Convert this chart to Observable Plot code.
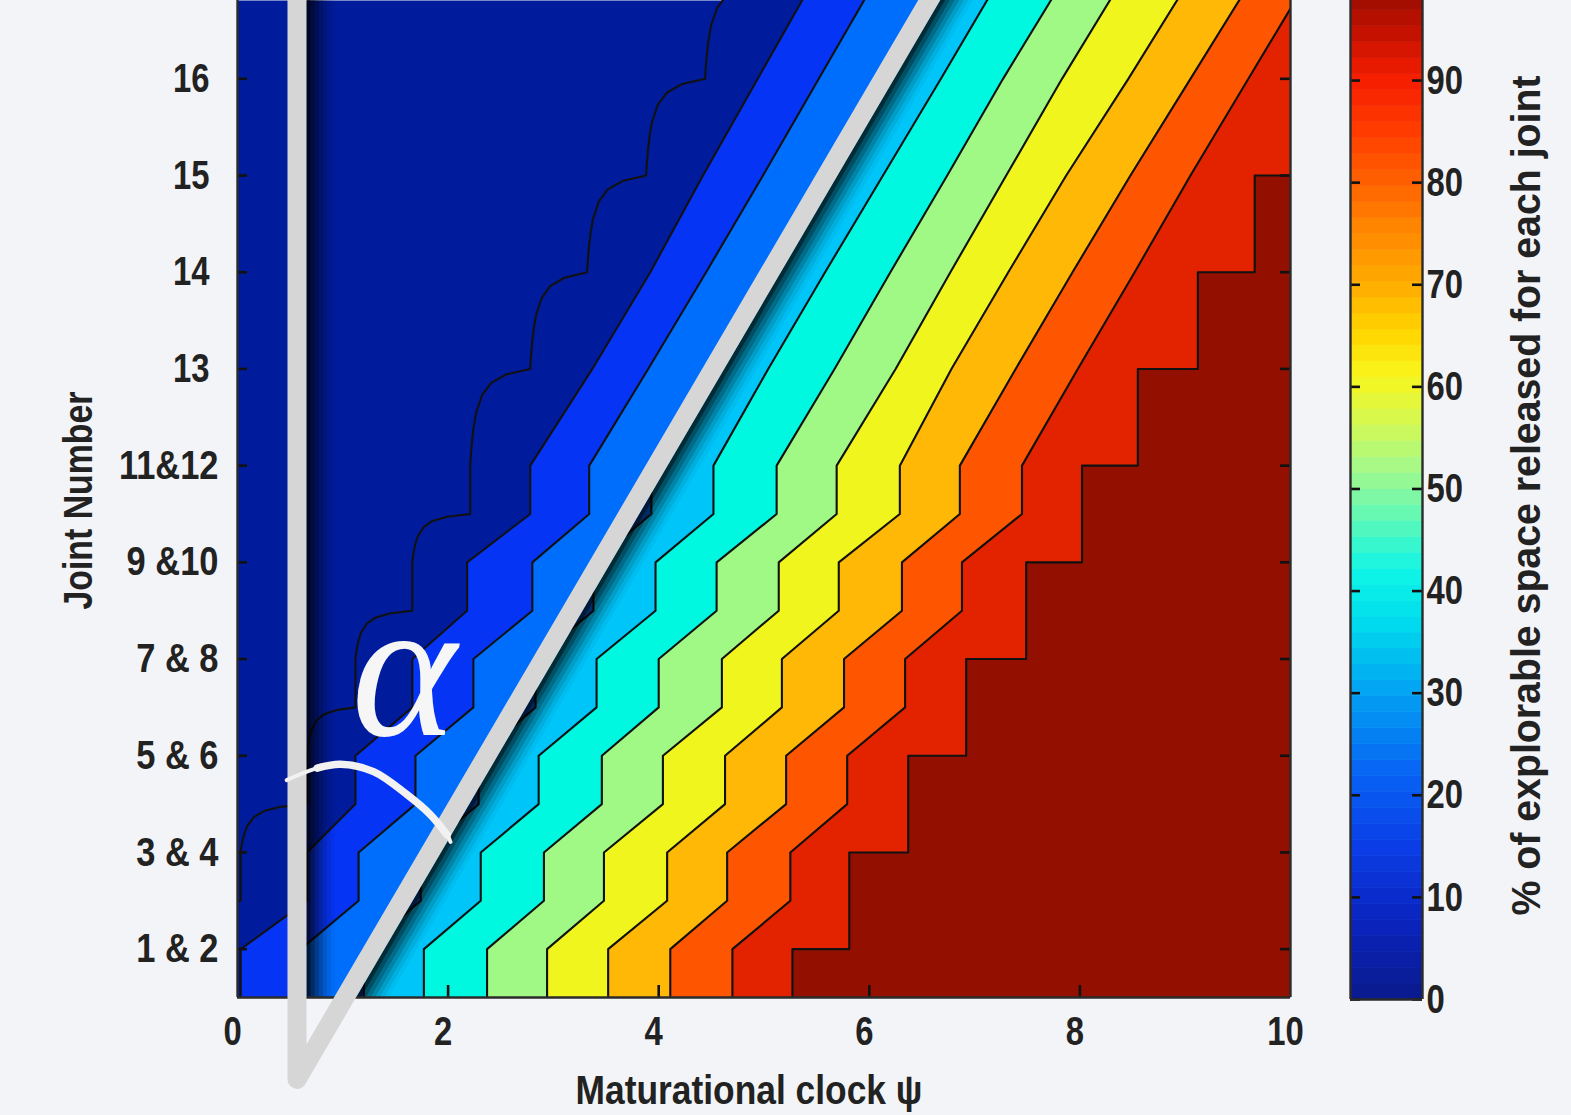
<!DOCTYPE html>
<html>
<head>
<meta charset="utf-8">
<script src="https://cdn.jsdelivr.net/npm/d3@7"></script>
<script src="https://cdn.jsdelivr.net/npm/@observablehq/plot@0.6"></script>
<style>
  html, body { margin: 0; padding: 0; background: #f3f4f7; overflow: hidden; }
  #chart { position: relative; width: 1571px; height: 1115px; }
  #chart > svg { position: absolute; top: 0; }
</style>
</head>
<body>
<div id="chart"></div>
<script>
// ---------------- data ----------------
const joints = [1, 2, 3, 4, 5, 6, 7, 8, 9, 10];
const jointLabels = ["1 & 2", "3 & 4", "5 & 6", "7 & 8", "9 &10", "11&12", "13 ", "14 ", "15 ", "16 "];
const clockTicks = [0, 2, 4, 6, 8, 10];
const percentTicks = [0, 10, 20, 30, 40, 50, 60, 70, 80, 90];

// maturational clock value at which each contour level is reached, one value per grid row
// (rows 1..10 = the joint labels, row 11 lies just above the top edge)
const release0   = [-0.52, 0.03, 0.66, 1.12, 1.66, 2.21, 2.78, 3.32, 3.88, 4.44, 5.01];
const release10  = [0.03, 0.66, 1.12, 1.66, 2.18, 2.78, 3.37, 3.92, 4.42, 4.94, 5.46];
const release20  = [0.60, 1.15, 1.69, 2.24, 2.80, 3.34, 3.90, 4.45, 4.99, 5.52, 6.05];
const release30  = [1.20, 1.74, 2.29, 2.83, 3.38, 3.93, 4.47, 5.01, 5.56, 6.11, 6.65];
const release40  = [1.77, 2.31, 2.86, 3.41, 3.97, 4.52, 5.04, 5.58, 6.13, 6.68, 7.22];
const release50  = [2.37, 2.91, 3.46, 4.00, 4.55, 5.12, 5.67, 6.20, 6.74, 7.27, 7.83];
const release60  = [2.94, 3.48, 4.04, 4.60, 5.14, 5.69, 6.25, 6.77, 7.30, 7.83, 8.39];
const release70  = [3.52, 4.08, 4.63, 5.17, 5.71, 6.29, 6.78, 7.32, 7.87, 8.46, 9.03];
const release80  = [4.11, 4.65, 5.21, 5.76, 6.31, 6.86, 7.39, 7.93, 8.48, 9.05, 9.62];
const release90  = [4.70, 5.25, 5.79, 6.34, 6.88, 7.45, 7.98, 8.52, 9.05, 9.60, 10.15];
const release100 = [5.27, 5.81, 6.37, 6.92, 7.49, 8.02, 8.55, 9.12, 9.66, 10.21, 10.76];

// band colours (below first contour ... above last contour)
const bandColors = ["#001c9c", "#001c9c", "#0634f4", "#006efd", "#00c5f9", "#00f8e0",
                    "#a0f984", "#f1f51e", "#feb805", "#fe5600", "#e32300", "#931000"];
// colour bar (jet-like) stops
const barStops  = [0, 8, 15, 22, 30, 37, 42, 47, 52, 57, 61, 65, 70, 75, 80, 85, 90, 95, 100];
const barColors = ["#0a1a8c", "#0a24c0", "#0a3ee6", "#0862f4", "#02a2f2", "#00dcee", "#10f6e6",
                   "#5ef8b8", "#a6f98a", "#d8f84c", "#f8f61c", "#ffd800", "#ffac00", "#ff8a00",
                   "#ff6200", "#ff3c00", "#f61e00", "#c01000", "#8c0c00"];

// annotation overlay (in data coordinates)
const angleArms = [{x: 0.565, y: 11.5}, {x: 0.565, y: -0.347}, {x: 6.938, y: 11.5}];
const angleArc = [{x: 0.467, y: 2.748}, {x: 0.757, y: 2.872}, {x: 0.978, y: 2.912}, {x: 1.292, y: 2.836},
                  {x: 1.612, y: 2.596}, {x: 1.833, y: 2.389}, {x: 1.991, y: 2.181}, {x: 2.023, y: 2.109}];
const alphaAt = {x: 1.581, y: 3.881};

// ---------------- geometry of the contour boundaries ----------------
const pairedRows = 6;                     // joints 1..12 are plotted as pairs
const gridY = k => (k <= pairedRows ? [k - 0.5, k] : [k]);
const bendU = [0, 0.01, 0.03, 0.06, 0.1, 0.2, 0.35, 0.6, 1];
const bendV = [0, 0.1, 0.254, 0.41, 0.55, 0.733, 0.856, 0.943, 1];

function rampPath(xs) {
  const pts = [];
  xs.forEach((x, i) => { for (const y of gridY(i + 1)) pts.push({x, y}); });
  return pts;
}
function plateauPath(xs) {
  const pts = [];
  xs.forEach((x, i) => { const k = i + 1; pts.push({x, y: k === 1 ? 0.5 : k - 1}); pts.push({x, y: k}); });
  return pts;
}
function onsetPath(xs) {
  const pts = [];
  xs.forEach((x, i) => {
    const k = i + 1, ys = gridY(k);
    for (const y of ys) pts.push({x, y});
    if (i < xs.length - 1) {
      const y0 = ys[ys.length - 1], y1 = gridY(k + 1)[0], x1 = xs[i + 1];
      for (let j = 1; j < bendU.length - 1; j++) pts.push({x: x + bendU[j] * (x1 - x), y: y0 + bendV[j] * (y1 - y0)});
    }
  });
  return pts;
}

const boundaries = [
  onsetPath(release0), rampPath(release10), rampPath(release20), rampPath(release30),
  rampPath(release40), rampPath(release50), rampPath(release60), rampPath(release70),
  rampPath(release80), rampPath(release90), plateauPath(release100)
];

const fills = boundaries.map((pts, i) =>
  Plot.areaX(pts, {y: "y", x1: "x", x2: () => 11, fill: bandColors[i + 1], clip: true}));
const contourLines = boundaries.map(pts =>
  Plot.line(pts, {x: "x", y: "y", stroke: "#111", strokeWidth: 2.1, clip: true}));

// shadows of the overlay bars
const shadeOffsets = [2, 6, 10, 14, 18, 22, 26];
const shadeOpacity = [0.78, 0.6, 0.45, 0.32, 0.2, 0.11, 0.04];
const shadows = [];
shadeOffsets.forEach((d, i) => {
  shadows.push(Plot.line(angleArms.slice(0, 2), {x: "x", y: "y", stroke: "#000", strokeOpacity: shadeOpacity[i],
    strokeWidth: 4.3, dx: 9.5 + d, clip: true}));
  shadows.push(Plot.line(angleArms.slice(1), {x: "x", y: "y", stroke: "#000", strokeOpacity: shadeOpacity[i],
    strokeWidth: 4.3, dx: (9.5 + d) / 0.8625, clip: true}));
});

const txt = {fontFamily: "'Liberation Sans', Arial, sans-serif", fontWeight: "bold", fill: "#222"};

const main = Plot.plot({
  width: 1571, height: 1115,
  marginLeft: 237, marginRight: 281, marginTop: 0, marginBottom: 118,
  style: {background: "transparent", fontFamily: "'Liberation Sans', Arial, sans-serif"},
  x: {domain: [0, 10]},
  y: {domain: [0.5, 10.81]},
  marks: [
    Plot.frame({fill: bandColors[0], stroke: null}),
    ...fills,
    ...contourLines,
    ...shadows,
    Plot.ruleX(clockTicks.slice(1, -1), {x: d => d, insetTop: 985, stroke: "#111", strokeWidth: 2.6}),
    Plot.ruleY(joints, {y: d => d, insetRight: 1043, stroke: "#111", strokeWidth: 2.6}),
    Plot.ruleY(joints, {y: d => d, insetLeft: 1043, stroke: "#111", strokeWidth: 2.6}),
    Plot.ruleX([0, 10], {x: d => d, stroke: "#2b2b2b", strokeWidth: 2.4}),
    Plot.ruleY([0.5], {y: d => d, stroke: "#2b2b2b", strokeWidth: 2.4}),
    Plot.axisX(clockTicks, {anchor: "bottom", tickSize: 0, tickPadding: 18, label: null, fontSize: 41, dx: -5, ...txt}),
    Plot.axisY(joints, {anchor: "left", tickSize: 0, tickPadding: 19, label: null, fontSize: 41,
      tickFormat: d => jointLabels[d - 1], ...txt}),
    Plot.text(["Maturational clock ψ"], {frameAnchor: "bottom", dx: -15, dy: 93, fontSize: 41,
      textAnchor: "middle", lineAnchor: "middle", ...txt}),
    Plot.text(["Joint Number"], {frameAnchor: "left", rotate: -90, dx: -159, dy: 1.5, fontSize: 41,
      textAnchor: "middle", lineAnchor: "middle", ...txt}),
    Plot.line(angleArms, {x: "x", y: "y", stroke: "#d6d6d6", strokeWidth: 19, strokeLinejoin: "round"}),
    Plot.line(angleArc, {x: "x", y: "y", curve: "catmull-rom", stroke: "#f2f2f2", strokeWidth: 4, strokeLinecap: "round"}),
    Plot.line(angleArc.slice(1, 7), {x: "x", y: "y", curve: "catmull-rom", stroke: "#f2f2f2", strokeWidth: 7.5, strokeLinecap: "round"}),
    Plot.text(["α"], {x: () => alphaAt.x, y: () => alphaAt.y, fontSize: 200, fontFamily: "'Liberation Serif', 'DejaVu Serif', serif",
      fontStyle: "italic", fill: "#f6f6f6", lineAnchor: "middle"})
  ]
});

// colour bar
const barSteps = d3.range(64).map(i => ({lo: i * 100 / 64, hi: (i + 1) * 100 / 64}));
const bar = Plot.plot({
  width: 241, height: 1115,
  marginLeft: 20, marginRight: 149, marginTop: 0, marginBottom: 116,
  style: {background: "transparent", fontFamily: "'Liberation Sans', Arial, sans-serif"},
  x: {domain: [0, 1], axis: null},
  y: {domain: [0, 97.84]},
  color: {type: "linear", domain: barStops, range: barColors, interpolate: "rgb"},
  marks: [
    Plot.rect(barSteps, {x1: () => 0, x2: () => 1, y1: "lo", y2: "hi", fill: d => (d.lo + d.hi) / 2,
      stroke: d => (d.lo + d.hi) / 2, strokeWidth: 0.6, clip: true}),
    Plot.ruleY(percentTicks, {y: d => d, insetRight: 62, stroke: "#111", strokeWidth: 2.6}),
    Plot.ruleY(percentTicks, {y: d => d, insetLeft: 62, stroke: "#111", strokeWidth: 2.6}),
    Plot.ruleX([0, 1], {x: d => d, stroke: "#2b2b2b", strokeWidth: 2.4}),
    Plot.ruleY([0], {y: d => d, stroke: "#2b2b2b", strokeWidth: 2.4}),
    Plot.axisY(percentTicks, {anchor: "right", tickSize: 0, tickPadding: 4, label: null, fontSize: 41, ...txt}),
    Plot.text(["% of explorable space released for each joint"], {frameAnchor: "right", rotate: -90, dx: 105, dy: -4.5,
      fontSize: 40, textAnchor: "middle", lineAnchor: "middle", ...txt})
  ]
});

const chart = document.getElementById("chart");
chart.append(main, bar);
main.style.left = "0px";
bar.style.left = "1330px";

// condensed lettering like the original
const titleLengths = {"Maturational clock ψ": 347, "Joint Number": 218, "% of explorable space released for each joint": 840};
for (const svg of [main, bar]) {
  for (const t of svg.querySelectorAll("text")) {
    const s = t.textContent;
    if (s === "α") continue;
    let L;
    if (titleLengths[s] != null) L = titleLengths[s];
    else L = t.getComputedTextLength() * (s.includes("&") ? 0.84 : 0.8);
    t.setAttribute("textLength", L);
    t.setAttribute("lengthAdjust", "spacingAndGlyphs");
  }
}
</script>
</body>
</html>
